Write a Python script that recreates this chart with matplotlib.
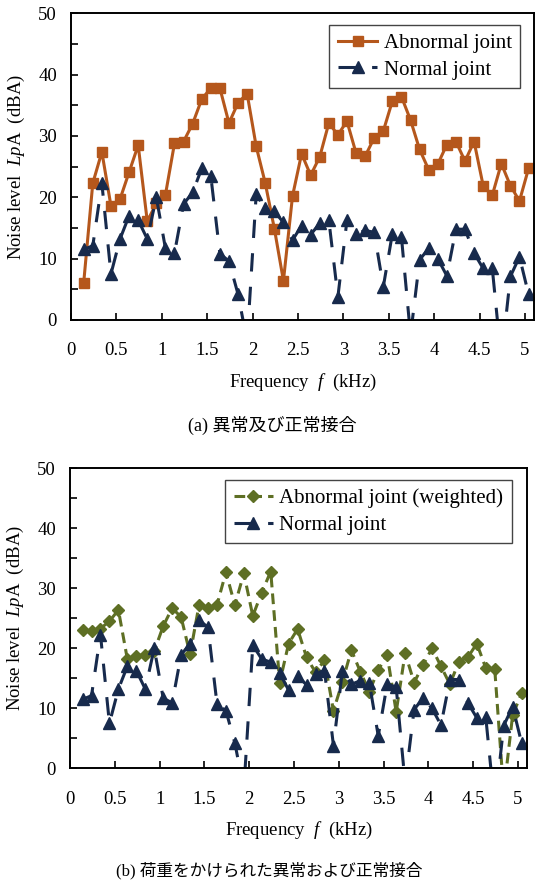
#!/usr/bin/env python3
# -*- coding: utf-8 -*-
import matplotlib
matplotlib.use("Agg")
import matplotlib.pyplot as plt
from matplotlib.ticker import MultipleLocator

plt.rcParams['font.family'] = ['Liberation Serif', 'Noto Sans CJK JP']
plt.rcParams['mathtext.fontset'] = 'custom'
plt.rcParams['mathtext.rm'] = 'Liberation Serif'
plt.rcParams['mathtext.it'] = 'Liberation Serif:italic'

# frequency of each band (kHz)
freq = [0.14, 0.24, 0.34, 0.44, 0.54, 0.64, 0.74, 0.84, 0.94, 1.04,
        1.14, 1.24, 1.34, 1.44, 1.54, 1.64, 1.74, 1.84, 1.94, 2.04,
        2.14, 2.24, 2.34, 2.44, 2.54, 2.64, 2.74, 2.84, 2.94, 3.04,
        3.14, 3.24, 3.34, 3.44, 3.54, 3.64, 3.74, 3.84, 3.94, 4.04,
        4.14, 4.24, 4.34, 4.44, 4.54, 4.64, 4.74, 4.84, 4.94, 5.04]

# noise level LpA (dBA)
abnormal = [6.1, 22.3, 27.4, 18.6, 19.7, 24.1, 28.5, 16.1, 19.0, 20.4,
            28.8, 29.1, 32.0, 36.0, 37.8, 37.8, 32.1, 35.4, 36.9, 28.3,
            22.3, 14.9, 6.4, 20.2, 27.1, 23.6, 26.6, 32.1, 30.2, 32.4,
            27.2, 26.7, 29.7, 30.8, 35.7, 36.4, 32.6, 27.8, 24.5, 25.4,
            28.6, 29.1, 25.9, 29.1, 21.9, 20.3, 25.5, 21.9, 19.4, 24.7]

normal = [11.5, 12.1, 22.3, 7.5, 13.2, 17.0, 16.3, 13.2, 20.0, 11.7,
          10.9, 18.9, 20.8, 24.7, 23.5, 10.8, 9.6, 4.2, -3.5, 20.5,
          18.2, 17.7, 15.9, 13.0, 15.4, 13.9, 15.8, 16.3, 3.8, 16.3,
          14.0, 14.6, 14.3, 5.4, 14.1, 13.5, -2.5, 9.8, 11.7, 10.0,
          7.2, 14.8, 14.8, 10.9, 8.4, 8.5, -6.5, 7.1, 10.3, 4.2]

abnormal_weighted = [23.0, 22.9, 23.3, 24.5, 26.4, 18.2, 18.8, 18.9, 19.5, 23.7,
                     26.7, 25.2, 19.0, 27.2, 26.7, 27.2, 32.7, 27.2, 32.5, 25.4,
                     29.3, 32.8, 14.3, 20.8, 23.2, 18.5, 16.0, 18.0, 9.6, 14.4,
                     19.7, 16.1, 12.8, 16.4, 18.9, 9.4, 19.2, 14.3, 17.2, 20.0,
                     17.0, 14.0, 17.8, 18.5, 20.8, 16.7, 16.5, -4.0, 8.9, 12.5]

x_ticks = [0, 0.5, 1, 1.5, 2, 2.5, 3, 3.5, 4, 4.5, 5]
x_ticklabels = ['0', '0.5', '1', '1.5', '2', '2.5', '3', '3.5', '4', '4.5', '5']

ORANGE = '#B5571C'
NAVY = '#172A4C'
OLIVE = '#5E6F24'
FS = 13.5
LEG_FS = 15


def style_axes(ax):
	"""Common axis look: inward ticks, serif labels"""
	ax.set_xlim(0, 5.1)
	ax.set_ylim(0, 50)
	ax.set_xticks(x_ticks)
	ax.set_xticklabels(x_ticklabels)
	ax.yaxis.set_major_locator(MultipleLocator(10))
	ax.yaxis.set_minor_locator(MultipleLocator(5))
	ax.tick_params(axis='both', which='both', direction='in', labelsize=FS,
				   length=5, width=1.2, top=False, right=False)
	ax.tick_params(axis='x', pad=16)
	ax.tick_params(axis='y', pad=10)
	for sp in ax.spines.values():
		sp.set_linewidth(1.4)
	ax.set_xlabel(r'Frequency  $\mathit{f}$  (kHz)', fontsize=FS, labelpad=9)
	ax.set_ylabel(r'Noise level  $\mathit{Lp}$A  (dBA)', fontsize=FS, labelpad=8)


def plot_normal(ax):
	ax.plot(freq, normal, color=NAVY, lw=2.2, linestyle=(0, (6, 5)),
			marker='^', markersize=8, label='Normal joint')


def add_legend(ax, anchor):
	ax.legend(loc='upper right', bbox_to_anchor=anchor, borderaxespad=0,
			  fontsize=LEG_FS, fancybox=False, framealpha=1, edgecolor='#444444',
			  handlelength=1.9, handletextpad=0.3, labelspacing=0.35, borderpad=0.4)


fig = plt.figure(figsize=(5.39, 8.8), dpi=100)

# (a) abnormal vs normal
ax1 = fig.add_axes([71 / 539, 1 - 320 / 880, 463 / 539, 306.7 / 880])
ax1.plot(freq, abnormal, color=ORANGE, lw=2.2, marker='s', markersize=7,
		 label='Abnormal joint')
plot_normal(ax1)
style_axes(ax1)
add_legend(ax1, (0.970, 0.962))
fig.text(0.505, 1 - 425 / 880, '(a) 異常及び正常接合', ha='center', va='center',
		 fontsize=13)

# (b) weighted abnormal vs normal
ax2 = fig.add_axes([70 / 539, 1 - 768.3 / 880, 457 / 539, 300 / 880])
ax2.plot(freq, abnormal_weighted, color=OLIVE, lw=2.2, linestyle=(0, (3.5, 2)),
		 marker='D', markersize=6.5, label='Abnormal joint (weighted)')
plot_normal(ax2)
style_axes(ax2)
add_legend(ax2, (0.9665, 0.961))
fig.text(0.5, 1 - 871 / 880, '(b) 荷重をかけられた異常および正常接合', ha='center',
		 va='center', fontsize=12)

fig.savefig('out.png', dpi=100)
plt.close(fig)
